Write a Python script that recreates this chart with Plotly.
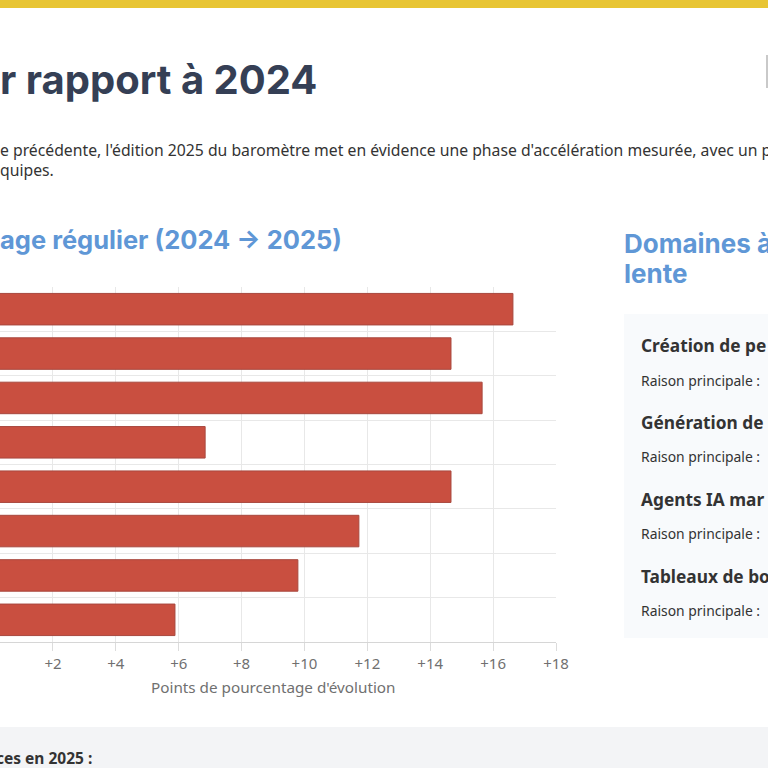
import plotly.graph_objects as go

# bar labels sit left of the visible crop, so only neutral ids here
categories = ["cat1", "cat2", "cat3", "cat4", "cat5", "cat6", "cat7", "cat8"]
values = [16.63, 14.66, 15.65, 6.84, 14.66, 11.73, 9.79, 5.88]
tick_values = [2, 4, 6, 8, 10, 12, 14, 16, 18]
tick_labels = ["+2", "+4", "+6", "+8", "+10", "+12", "+14", "+16", "+18"]

WIDTH = 768
HEIGHT = 768


def px_x(x):
    return x / WIDTH


def px_y(y):
    return 1 - y / HEIGHT


def add_text(fig, x, y, text, size, color, family="Noto Sans", weight=400):
    fig.add_annotation(
        xref="paper", yref="paper",
        x=px_x(x), y=px_y(y),
        xanchor="left", yanchor="middle",
        text=text, showarrow=False,
        align="left",
        font=dict(family=family, size=size, color=color, weight=weight),
    )


def add_box(fig, x0, y0, x1, y1, color):
    fig.add_shape(
        type="rect", xref="paper", yref="paper", layer="below",
        x0=px_x(x0), x1=px_x(x1), y0=px_y(y0), y1=px_y(y1),
        fillcolor=color, line=dict(width=0),
    )


fig = go.Figure()

fig.add_trace(
    go.Bar(
        x=values,
        y=categories,
        orientation="h",
        width=0.71,
        marker=dict(color="#c94f40", line=dict(color="#a8483e", width=1)),
    )
)

fig.update_layout(
    width=WIDTH,
    height=HEIGHT,
    margin=dict(l=0, r=0, t=0, b=0, autoexpand=False),
    paper_bgcolor="white",
    plot_bgcolor="white",
    showlegend=False,
    font=dict(family="Noto Sans", color="#707070"),
)

fig.update_xaxes(
    domain=[0, px_x(556)],
    range=[0.315, 18],
    tickvals=tick_values,
    ticktext=tick_labels,
    tickfont=dict(size=15, color="#707070"),
    ticks="outside",
    ticklen=8,
    tickcolor="#dcdcdc",
    showgrid=True,
    gridcolor="#e8e8e8",
    showline=True,
    linecolor="#d6d6d6",
    zeroline=False,
)
fig.update_yaxes(
    domain=[px_y(642), px_y(287)],
    range=[7.5, -0.5],
    type="category",
    tickson="boundaries",
    showticklabels=False,
    ticks="",
    showgrid=True,
    gridcolor="#e8e8e8",
)

# page furniture around the chart
add_box(fig, 0, 0, 768, 8, "#e8c534")
add_box(fig, 624, 314, 768, 638, "#f8fafc")
add_box(fig, 0, 727, 768, 768, "#f3f4f6")
add_box(fig, 766, 55, 768, 88, "#c9c9c9")

add_text(fig, -2, 80, "r rapport à 2024", 40, "#353f55", "Inter", 700)
add_text(fig, -2, 150, "e précédente, l'édition 2025 du baromètre met en évidence une phase d'accélération mesurée, avec un p", 15.75, "#333333")
add_text(fig, -2, 170, "quipes.", 15.75, "#333333")
add_text(fig, -2, 239, "age régulier (2024 → 2025)", 25.5, "#5f97d6", "Inter", 700)
add_text(fig, 622, 243, "Domaines à", 26, "#5f97d6", "Inter", 700)
add_text(fig, 622, 273, "lente", 26, "#5f97d6", "Inter", 700)

add_text(fig, 149, 687, "Points de pourcentage d'évolution", 15.25, "#707070")

add_text(fig, 639, 346, "Création de pe", 17.3, "#333333", weight=700)
add_text(fig, 639, 380, "Raison principale :", 13.9, "#333333")
add_text(fig, 639, 422, "Génération de", 17.3, "#333333", weight=700)
add_text(fig, 639, 456.5, "Raison principale :", 13.9, "#333333")
add_text(fig, 639, 499, "Agents IA mar", 17.3, "#333333", weight=700)
add_text(fig, 639, 533, "Raison principale :", 13.9, "#333333")
add_text(fig, 639, 576, "Tableaux de bo", 17.3, "#333333", weight=700)
add_text(fig, 639, 610, "Raison principale :", 13.9, "#333333")
add_text(fig, -6, 758, "ces en 2025 :", 15.5, "#333333", weight=700)

fig.write_html(
    "out.html",
    config={"displayModeBar": False, "responsive": False},
    default_width="768px",
    default_height="768px",
    post_script="document.body.style.margin='0';document.body.style.overflow='hidden';",
)
